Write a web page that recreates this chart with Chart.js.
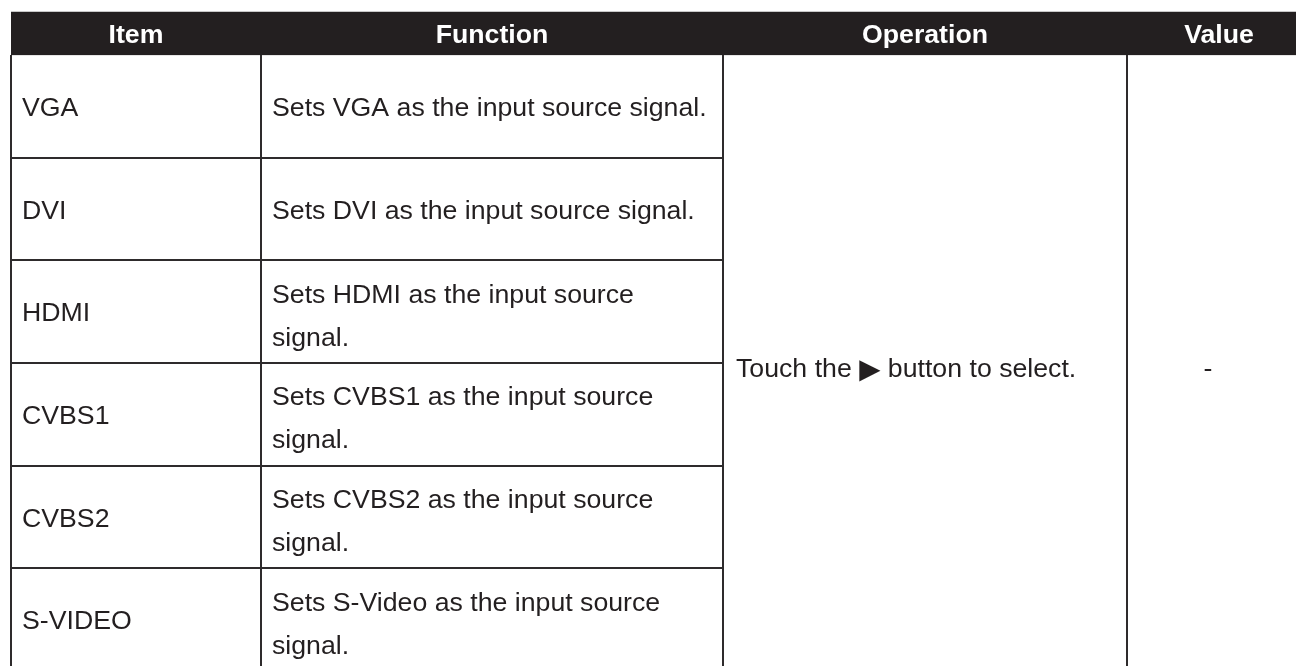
<!DOCTYPE html>
<html>
<head>
<meta charset="utf-8">
<script src="https://cdn.jsdelivr.net/npm/chart.js@4/dist/chart.umd.min.js"></script>
<style>
  html, body { margin: 0; padding: 0; background: #ffffff; overflow: hidden; }
  #wrap { position: absolute; left: 0; top: 0; width: 1311px; height: 671px; }
</style>
</head>
<body>
<div id="wrap"><canvas id="c" width="1311" height="671"></canvas></div>
<script>
// ---- data ----
const headers = ['Item', 'Function', 'Operation', 'Value'];
const items = ['VGA', 'DVI', 'HDMI', 'CVBS1', 'CVBS2', 'S-VIDEO'];
const functions = [
  ['Sets VGA as the input source signal.'],
  ['Sets DVI as the input source signal.'],
  ['Sets HDMI as the input source', 'signal.'],
  ['Sets CVBS1 as the input source', 'signal.'],
  ['Sets CVBS2 as the input source', 'signal.'],
  ['Sets S-Video as the input source', 'signal.']
];
const operationParts = ['Touch the', '\u25B6', 'button to select.'];
const valueText = '-';

// ---- layout (not data) ----
const colWidths = [250, 462, 404, 184];
const headerRatio = 0.42;
const FONT = '"Liberation Sans", Arial, Helvetica, sans-serif';
const FS = 26.7;
const LINE_GAP = 43;
const INK = '#231f20';
const LINE = '#2e2b2c';

const colEdges = [0];
colWidths.forEach(w => colEdges.push(colEdges[colEdges.length - 1] + w));

const tablePlugin = {
  id: 'tableDraw',
  afterDraw(chart) {
    const ctx = chart.ctx;
    const xs = chart.scales.x, ys = chart.scales.y;
    const X = v => xs.getPixelForValue(v);
    const Y = v => ys.getPixelForValue(v);
    const nRows = items.length;
    const capH = 0.716 * FS;

    ctx.save();
    // header band
    ctx.fillStyle = INK;
    ctx.fillRect(X(colEdges[0]), Y(-headerRatio), X(colEdges[4]) - X(colEdges[0]), Y(0) - Y(-headerRatio));
    // faint top edge
    ctx.fillStyle = '#c8c8c8';
    ctx.fillRect(X(colEdges[0]), Y(-headerRatio) - 1, X(colEdges[4]) - X(colEdges[0]), 1);

    ctx.fillStyle = '#ffffff';
    ctx.font = 'bold ' + FS + 'px ' + FONT;
    ctx.textAlign = 'center';
    ctx.textBaseline = 'alphabetic';
    const hc = (Y(-headerRatio) + Y(0)) / 2;
    headers.forEach((h, i) => {
      ctx.fillText(h, (X(colEdges[i]) + X(colEdges[i + 1])) / 2, hc + capH / 2);
    });

    // cell borders
    ctx.strokeStyle = LINE;
    ctx.lineWidth = 2;
    ctx.beginPath();
    for (let i = 0; i < colEdges.length; i++) {
      const x = Math.round(X(colEdges[i]));
      ctx.moveTo(x, Y(0));
      ctx.lineTo(x, Y(nRows));
    }
    for (let r = 1; r < nRows; r++) {
      const y = Math.round(Y(r));
      ctx.moveTo(X(colEdges[0]), y);
      ctx.lineTo(X(colEdges[2]), y);
    }
    ctx.moveTo(X(colEdges[0]), Math.round(Y(nRows)));
    ctx.lineTo(X(colEdges[4]), Math.round(Y(nRows)));
    ctx.stroke();

    // body text
    ctx.fillStyle = INK;
    ctx.font = FS + 'px ' + FONT;
    ctx.textAlign = 'left';
    const pad = 11;
    for (let r = 0; r < nRows; r++) {
      const cy = (Y(r) + Y(r + 1)) / 2;
      ctx.fillText(items[r], X(colEdges[0]) + pad, cy + capH / 2);
      const lines = functions[r];
      const n = lines.length;
      lines.forEach((t, k) => {
        const by = cy + capH / 2 + (k - (n - 1) / 2) * LINE_GAP + (n > 1 ? 3 : 0);
        ctx.fillText(t, X(colEdges[1]) + pad, by);
      });
    }

    // merged Operation cell
    const mc = (Y(0) + Y(nRows)) / 2 + 4;
    let x = X(colEdges[2]) + 13;
    ctx.fillText(operationParts[0], x, mc + capH / 2);
    x += ctx.measureText(operationParts[0] + ' ').width;
    ctx.font = (FS + 1) + 'px "DejaVu Sans", sans-serif';
    ctx.fillText(operationParts[1], x, mc + capH / 2 + 1);
    x += ctx.measureText(operationParts[1]).width;
    ctx.font = FS + 'px ' + FONT;
    x += ctx.measureText(' ').width;
    ctx.fillText(operationParts[2], x, mc + capH / 2);

    // merged Value cell
    ctx.textAlign = 'center';
    ctx.fillText(valueText, (X(colEdges[3]) + X(colEdges[4])) / 2 - 11, mc + capH / 2);
    ctx.restore();
  }
};

new Chart(document.getElementById('c'), {
  type: 'scatter',
  data: { datasets: [] },
  options: {
    responsive: false,
    animation: false,
    devicePixelRatio: 1,
    layout: { padding: { left: 11, top: 12, right: 0, bottom: 0 } },
    plugins: { legend: { display: false }, tooltip: { enabled: false } },
    scales: {
      x: { type: 'linear', min: 0, max: colEdges[colEdges.length - 1], display: false },
      y: { type: 'linear', min: -headerRatio, max: items.length, reverse: true, display: false }
    }
  },
  plugins: [tablePlugin]
});
</script>
</body>
</html>
